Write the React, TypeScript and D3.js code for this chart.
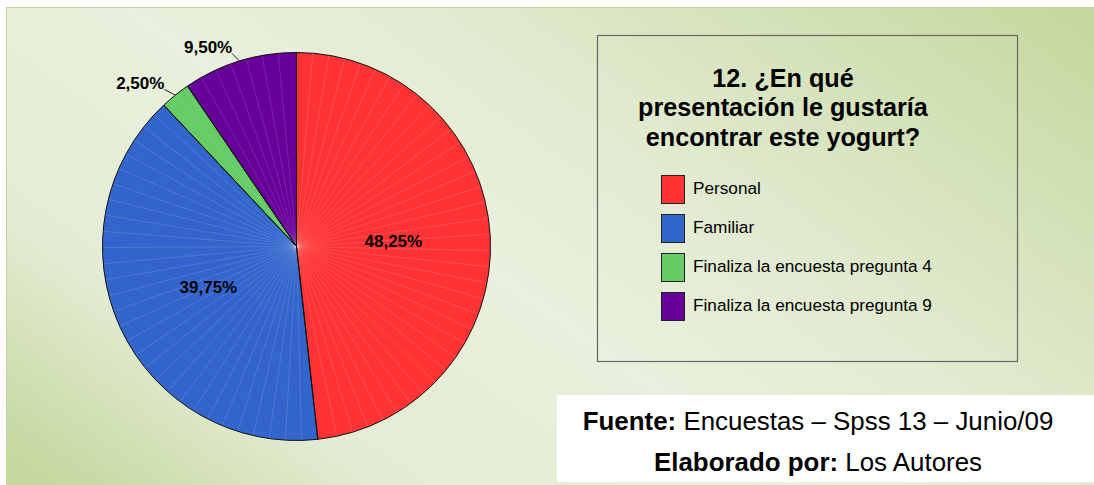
import React, { useEffect } from "react";
import * as d3 from "d3";

const categories = [
  "Personal",
  "Familiar",
  "Finaliza la encuesta pregunta 4",
  "Finaliza la encuesta pregunta 9",
];
const values = [48.25, 39.75, 2.5, 9.5];
const valueLabels = ["48,25%", "39,75%", "2,50%", "9,50%"];
const colors = ["#ff3333", "#3366cc", "#66cc66", "#660099"];
const titleLines = ["12. ¿En qué", "presentación le gustaría", "encontrar este yogurt?"];
const sourceBold = ["Fuente:", "Elaborado por:"];
const sourceText = [" Encuestas – Spss 13 – Junio/09", " Los Autores"];

const W = 1094;
const H = 485;
const FONT = "Arial, 'Liberation Sans', sans-serif";

export default function App() {
  useEffect(() => {
    document.body.style.margin = "0";
  }, []);

  const cx = 296.5;
  const cy = 246.5;
  const r = 194;

  const pie = d3.pie<number>().sort(null).value((d) => d).startAngle(0).endAngle(2 * Math.PI);
  const arcs = pie(values);
  const arcGen = d3.arc<d3.PieArcDatum<number>>().innerRadius(0).outerRadius(r);
  const step = (4.8 * Math.PI) / 180;

  const pt = (ang: number, rad: number): [number, number] => [
    Math.sin(ang) * rad,
    -Math.cos(ang) * rad,
  ];

  // gradient axis
  const ux = 0.58, uy = -0.81;
  const s0 = -400, s1 = 640;

  return (
    <div style={{ position: "absolute", left: 0, top: 0 }}>
      <svg width={W} height={H} style={{ display: "block" }}>
        <defs>
          <linearGradient
            id="bg"
            gradientUnits="userSpaceOnUse"
            x1={s0 * ux}
            y1={s0 * uy}
            x2={s1 * ux}
            y2={s1 * uy}
          >
            <stop offset="0" stopColor="#c4d79c" />
            <stop offset="0.06" stopColor="#c9daa6" />
            <stop offset="0.22" stopColor="#e3ecd3" />
            <stop offset="0.45" stopColor="#e9f0dd" />
            <stop offset="0.62" stopColor="#e2ebd1" />
            <stop offset="0.82" stopColor="#d2e1b6" />
            <stop offset="1" stopColor="#c4d79b" />
          </linearGradient>
        </defs>
        <rect x={0} y={0} width={W} height={H} fill="#ffffff" />
        <rect x={6} y={7} width={W - 6} height={H - 7} fill="url(#bg)" />
        <rect x={6.5} y={7.5} width={W - 6} height={H - 7} fill="none" stroke="#c2d59a" strokeWidth={1} />

        {/* Pie */}
        <g transform={`translate(${cx},${cy})`}>
          {arcs.map((a, i) => (
            <path key={"s" + i} d={arcGen(a) || ""} fill={colors[i]} stroke="none" />
          ))}
          {arcs.map((a, i) => {
            const lines = [];
            for (let t = a.startAngle + step; t < a.endAngle - step * 0.3; t += step) {
              const [x, y] = pt(t, r);
              lines.push(
                <line
                  key={`l${i}-${t}`}
                  x1={0}
                  y1={0}
                  x2={x}
                  y2={y}
                  stroke="rgba(255,255,255,0.22)"
                  strokeWidth={0.6}
                />
              );
            }
            return <g key={"g" + i}>{lines}</g>;
          })}
          {arcs.map((a, i) => (
            <path key={"o" + i} d={arcGen(a) || ""} fill="none" stroke="#111" strokeWidth={1} strokeLinejoin="round" />
          ))}
          {arcs.map((a, i) => {
            const mid = (a.startAngle + a.endAngle) / 2;
            if (values[i] > 20) {
              const [x, y] = pt(mid, r * 0.5);
              return (
                <text
                  key={"t" + i}
                  x={x}
                  y={y + 6}
                  textAnchor="middle"
                  fontFamily={FONT}
                  fontWeight="bold"
                  fontSize={17}
                  fill="#000"
                >
                  {valueLabels[i]}
                </text>
              );
            }
            const [ax, ay] = pt(mid, r);
            const [lx0, ly0] = pt(mid, r + 11);
            const lx = lx0 - 4;
            const ly = ly0 + 3;
            return (
              <g key={"t" + i}>
                <line x1={ax} y1={ay} x2={lx} y2={ly} stroke="#222" strokeWidth={1} />
                <text
                  x={lx}
                  y={ly - 0.5}
                  textAnchor="end"
                  fontFamily={FONT}
                  fontWeight="bold"
                  fontSize={17}
                  fill="#000"
                >
                  {valueLabels[i]}
                </text>
              </g>
            );
          })}
        </g>

        {/* Legend box */}
        <rect x={597.5} y={35.5} width={420} height={326} fill="none" stroke="#666" strokeWidth={1.2} />
        {titleLines.map((t, i) => (
          <text
            key={"tt" + i}
            x={783}
            y={86.5 + i * 29.5}
            textAnchor="middle"
            fontFamily={FONT}
            fontWeight="bold"
            fontSize={25.2}
            fill="#000"
          >
            {t}
          </text>
        ))}
        {categories.map((c, i) => {
          const y0 = 175 + i * 39;
          return (
            <g key={"lg" + i}>
              <rect x={661.5} y={y0 + 0.5} width={23} height={28} fill={colors[i]} stroke="#222" strokeWidth={1} />
              <text x={693} y={y0 + 18.5} fontFamily={FONT} fontSize={17.2} fill="#000">
                {c}
              </text>
            </g>
          );
        })}

        {/* Source box */}
        <rect x={557} y={395} width={W - 557} height={87} fill="#ffffff" />
        {sourceBold.map((b, i) => (
          <text
            key={"src" + i}
            x={818}
            y={430 + i * 40.5}
            textAnchor="middle"
            fontFamily={FONT}
            fontSize={25.9}
            fill="#000"
          >
            <tspan fontWeight="bold">{b}</tspan>
            <tspan>{sourceText[i]}</tspan>
          </text>
        ))}
      </svg>
    </div>
  );
}
